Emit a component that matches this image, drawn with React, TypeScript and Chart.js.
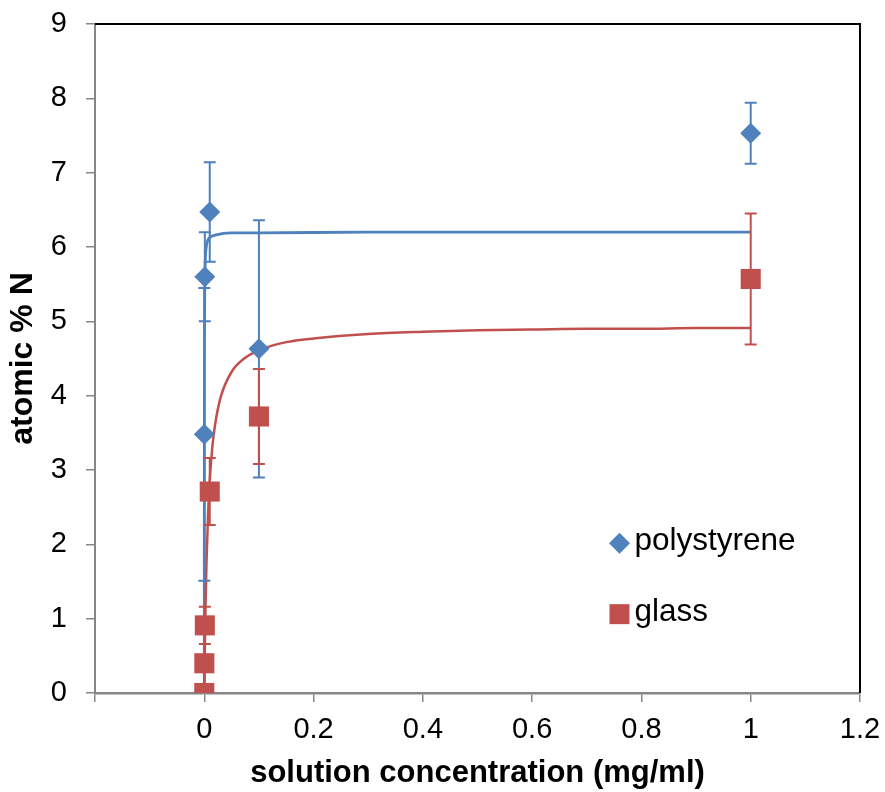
import React, { useEffect, useRef } from 'react';
import { Chart, registerables } from 'chart.js';

Chart.register(...registerables);

// ---- data ----
const seriesNames = ['polystyrene', 'glass'];

const polystyreneX = [0.0001, 0.001, 0.01, 0.1, 1];
const polystyreneY = [3.48, 5.6, 6.47, 4.63, 7.53];
const polystyreneErr = [1.97, 0.6, 0.67, 1.73, 0.41];

const glassX = [0, 0.0001, 0.001, 0.01, 0.1, 1];
const glassY = [0, 0.4, 0.91, 2.71, 3.72, 5.57];
const glassErr = [0, 0.1, 0.25, 0.45, 0.64, 0.88];

// fitted (trend) curves
const polystyreneFitX = [0, 0.00005, 0.0001, 0.0002, 0.0004, 0.0007, 0.001, 0.002, 0.004, 0.007, 0.01, 0.02, 0.05, 0.1, 0.3, 0.6, 1];
const polystyreneFitY = [0, 1.82, 2.82, 3.88, 4.77, 5.29, 5.54, 5.85, 6.02, 6.1, 6.13, 6.16, 6.19, 6.19, 6.2, 6.2, 6.2];

const glassFitX = [0, 0.001, 0.002, 0.004, 0.007, 0.01, 0.015, 0.02, 0.03, 0.05, 0.075, 0.1, 0.15, 0.2, 0.3, 0.4, 0.5, 0.6, 0.7, 0.8, 0.9, 1];
const glassFitY = [0, 0.6, 1.06, 1.75, 2.42, 2.86, 3.33, 3.62, 3.98, 4.32, 4.51, 4.61, 4.72, 4.77, 4.83, 4.86, 4.88, 4.89, 4.9, 4.9, 4.91, 4.91];

const xAxisRange = [-0.2, 1.2];
const xAxisStep = 0.2;
const yAxisRange = [0, 9];
const yAxisStep = 1;

const xTitle = 'solution concentration (mg/ml)';
const yTitle = 'atomic % N';

const BLUE = '#4F81BD';
const RED = '#C0504D';
const AXIS_GRAY = '#868686';
const FONT = 'Arial, "Liberation Sans", Helvetica, sans-serif';

const toPoints = (xs: number[], ys: number[]) => xs.map((x, i) => ({ x, y: ys[i] }));

const errorBarPlugin = {
  id: 'errorBars',
  beforeDatasetDraw(chart: any, args: any) {
    const ds = chart.data.datasets[args.index];
    if (!ds.errors) return;
    const { ctx } = chart;
    const xs = chart.scales.x;
    const ys = chart.scales.y;
    ctx.save();
    ctx.strokeStyle = ds.borderColor;
    ctx.lineWidth = 2;
    ds.data.forEach((p: any, i: number) => {
      const e = ds.errors[i];
      if (!e) return;
      const px = xs.getPixelForValue(p.x);
      const pTop = ys.getPixelForValue(p.y + e);
      const pBot = ys.getPixelForValue(p.y - e);
      ctx.beginPath();
      ctx.moveTo(px, pTop);
      ctx.lineTo(px, pBot);
      ctx.moveTo(px - 6, pTop);
      ctx.lineTo(px + 6, pTop);
      ctx.moveTo(px - 6, pBot);
      ctx.lineTo(px + 6, pBot);
      ctx.stroke();
    });
    ctx.restore();
  },
};

const framePlugin = {
  id: 'frame',
  afterDraw(chart: any) {
    const { ctx, chartArea } = chart;
    ctx.save();
    ctx.strokeStyle = '#000';
    ctx.lineWidth = 2;
    ctx.beginPath();
    ctx.moveTo(chartArea.left, chartArea.top);
    ctx.lineTo(chartArea.right, chartArea.top);
    ctx.lineTo(chartArea.right, chartArea.bottom);
    ctx.stroke();
    ctx.restore();
  },
};

const insideLegendPlugin = {
  id: 'insideLegend',
  afterDraw(chart: any) {
    const { ctx, chartArea } = chart;
    const items = chart.data.datasets.filter((d: any) => d.inLegend);
    const mx = chartArea.left + (chartArea.right - chartArea.left) * 0.6856;
    const y0 = chartArea.top + (chartArea.bottom - chartArea.top) * 0.776;
    const gap = 71;
    ctx.save();
    items.forEach((d: any, i: number) => {
      const cy = y0 + i * gap;
      ctx.fillStyle = d.backgroundColor;
      ctx.beginPath();
      if (d.pointStyle === 'rectRot') {
        ctx.moveTo(mx, cy - 10.5);
        ctx.lineTo(mx + 10.5, cy);
        ctx.lineTo(mx, cy + 10.5);
        ctx.lineTo(mx - 10.5, cy);
        ctx.closePath();
      } else {
        ctx.rect(mx - 10, cy - 10, 20, 20);
      }
      ctx.fill();
      ctx.fillStyle = '#000';
      ctx.font = `31.5px ${FONT}`;
      ctx.textBaseline = 'middle';
      ctx.textAlign = 'left';
      ctx.fillText(d.label, mx + 15, cy - 2);
    });
    ctx.restore();
  },
};

export default function App() {
  const canvasRef = useRef<HTMLCanvasElement | null>(null);

  useEffect(() => {
    if (!canvasRef.current) return;
    const chart = new Chart(canvasRef.current, {
      type: 'scatter',
      data: {
        datasets: [
          {
            label: seriesNames[0],
            data: toPoints(polystyreneX, polystyreneY),
            errors: polystyreneErr,
            inLegend: true,
            showLine: false,
            pointStyle: 'rectRot',
            pointRadius: 10.5,
            pointHoverRadius: 10.5,
            backgroundColor: BLUE,
            borderColor: BLUE,
            pointBorderWidth: 0,
            order: 1,
          } as any,
          {
            label: seriesNames[1],
            data: toPoints(glassX, glassY),
            errors: glassErr,
            inLegend: true,
            showLine: false,
            pointStyle: 'rect',
            pointRadius: 14.2,
            pointHoverRadius: 14.2,
            backgroundColor: RED,
            borderColor: RED,
            pointBorderWidth: 0,
            order: 0,
          } as any,
          {
            label: 'polystyrene fit',
            data: toPoints(polystyreneFitX, polystyreneFitY),
            showLine: true,
            pointRadius: 0,
            borderColor: BLUE,
            backgroundColor: BLUE,
            borderWidth: 2.8,
            cubicInterpolationMode: 'monotone',
            order: 3,
          } as any,
          {
            label: 'glass fit',
            data: toPoints(glassFitX, glassFitY),
            showLine: true,
            pointRadius: 0,
            borderColor: RED,
            backgroundColor: RED,
            borderWidth: 2.5,
            cubicInterpolationMode: 'monotone',
            order: 2,
          } as any,
        ],
      },
      options: {
        animation: false,
        responsive: true,
        maintainAspectRatio: false,
        layout: { padding: { left: 0, right: 25, top: 24, bottom: 0 } },
        plugins: {
          legend: { display: false },
          tooltip: { enabled: false },
        },
        scales: {
          x: {
            type: 'linear',
            min: xAxisRange[0],
            max: xAxisRange[1],
            afterFit: (s: any) => {
              s.height = 99;
              s.paddingLeft = 0;
              s.paddingRight = 0;
            },
            ticks: {
              stepSize: xAxisStep,
              color: '#000',
              font: { family: FONT, size: 29 },
              padding: 11,
              maxRotation: 0,
              callback: (v: any) => (v < -0.01 ? '' : String(Number(Number(v).toFixed(1)))),
            },
            grid: {
              display: true,
              drawOnChartArea: false,
              drawTicks: true,
              tickLength: 9,
              color: AXIS_GRAY,
              lineWidth: 1.5,
            },
            border: { display: true, color: AXIS_GRAY, width: 2.5 },
            title: {
              display: true,
              text: xTitle,
              color: '#000',
              font: { family: FONT, size: 31, weight: 'bold' },
              padding: { top: 0, bottom: 0 },
            },
          },
          y: {
            type: 'linear',
            min: yAxisRange[0],
            max: yAxisRange[1],
            afterFit: (s: any) => {
              s.width = 95;
              s.paddingTop = 0;
              s.paddingBottom = 0;
            },
            ticks: {
              stepSize: yAxisStep,
              color: '#000',
              font: { family: FONT, size: 29 },
              padding: 19,
            },
            grid: {
              display: true,
              drawOnChartArea: false,
              drawTicks: true,
              tickLength: 9,
              color: AXIS_GRAY,
              lineWidth: 1.5,
            },
            border: { display: true, color: AXIS_GRAY, width: 2 },
            title: {
              display: true,
              text: yTitle,
              color: '#000',
              font: { family: FONT, size: 32, weight: 'bold' },
              padding: { top: 4, bottom: 4 },
            },
          },
        },
      },
      plugins: [errorBarPlugin, framePlugin, insideLegendPlugin],
    } as any);
    return () => chart.destroy();
  }, []);

  return (
    <div style={{ position: 'fixed', left: 0, top: 0, width: 885, height: 792, background: '#fff' }}>
      <canvas ref={canvasRef} />
    </div>
  );
}
